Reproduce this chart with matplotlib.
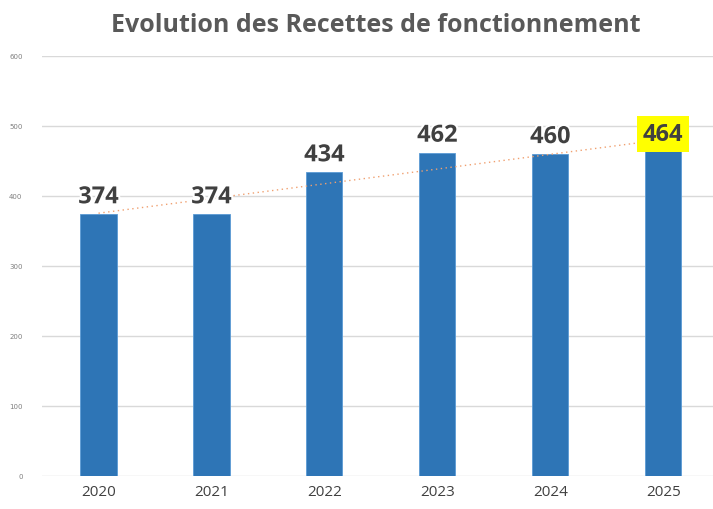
import matplotlib
matplotlib.use("Agg")
import matplotlib.pyplot as plt
import matplotlib.patheffects as pe
import numpy as np

years = ["2020", "2021", "2022", "2023", "2024", "2025"]
values = [374, 374, 434, 462, 460, 464]
yticks = [0, 100, 200, 300, 400, 500, 600]
title = "Evolution des Recettes de fonctionnement"

fig = plt.figure(figsize=(7.13, 5.10), dpi=100)
ax = fig.add_axes([42/713, 33/510, (713-42)/713, (477-57)/510])

x = np.arange(len(years))
ax.bar(x, values, width=0.32, color="#2E75B6", edgecolor="#5B9BD5", linewidth=0.6, zorder=3)

# linear trend line
coef = np.polyfit(x, values, 1)
ax.plot([x[0], x[-1]], np.polyval(coef, [x[0], x[-1]]), linestyle=(0, (1, 2.5)),
        color="#F0A070", linewidth=1.0, zorder=4)

for i, v in enumerate(values):
    kw = {}
    effects = [pe.withStroke(linewidth=3, foreground="white")]
    if i == len(values) - 1:
        kw["bbox"] = dict(boxstyle="square,pad=0.25", facecolor="#FFFF00", edgecolor="none")
        effects = []
    ax.text(i, v + 7, str(v), ha="center", va="bottom", fontsize=17, fontweight="bold",
            color="#404040", family="Open Sans", zorder=5,
            path_effects=effects, **kw)

ax.set_ylim(0, 600)
ax.set_xlim(-0.5, 5.44)
ax.set_yticks(yticks)
ax.set_yticklabels([str(t) for t in yticks], fontsize=5, color="#7f7f7f")
ax.set_xticks(x)
ax.set_xticklabels(years, fontsize=11, color="#404040", family="Open Sans")
ax.tick_params(axis="both", length=0)
ax.tick_params(axis="y", pad=14)
ax.tick_params(axis="x", pad=6)
ax.grid(axis="y", color="#d9d9d9", linewidth=1, zorder=0)
for s in ax.spines.values():
    s.set_visible(False)

fig.text(376/713, 1 - 26/510, title, ha="center", va="center", fontsize=18,
         fontweight="bold", color="#595959", family="Open Sans")

fig.savefig("out.png", dpi=100)
